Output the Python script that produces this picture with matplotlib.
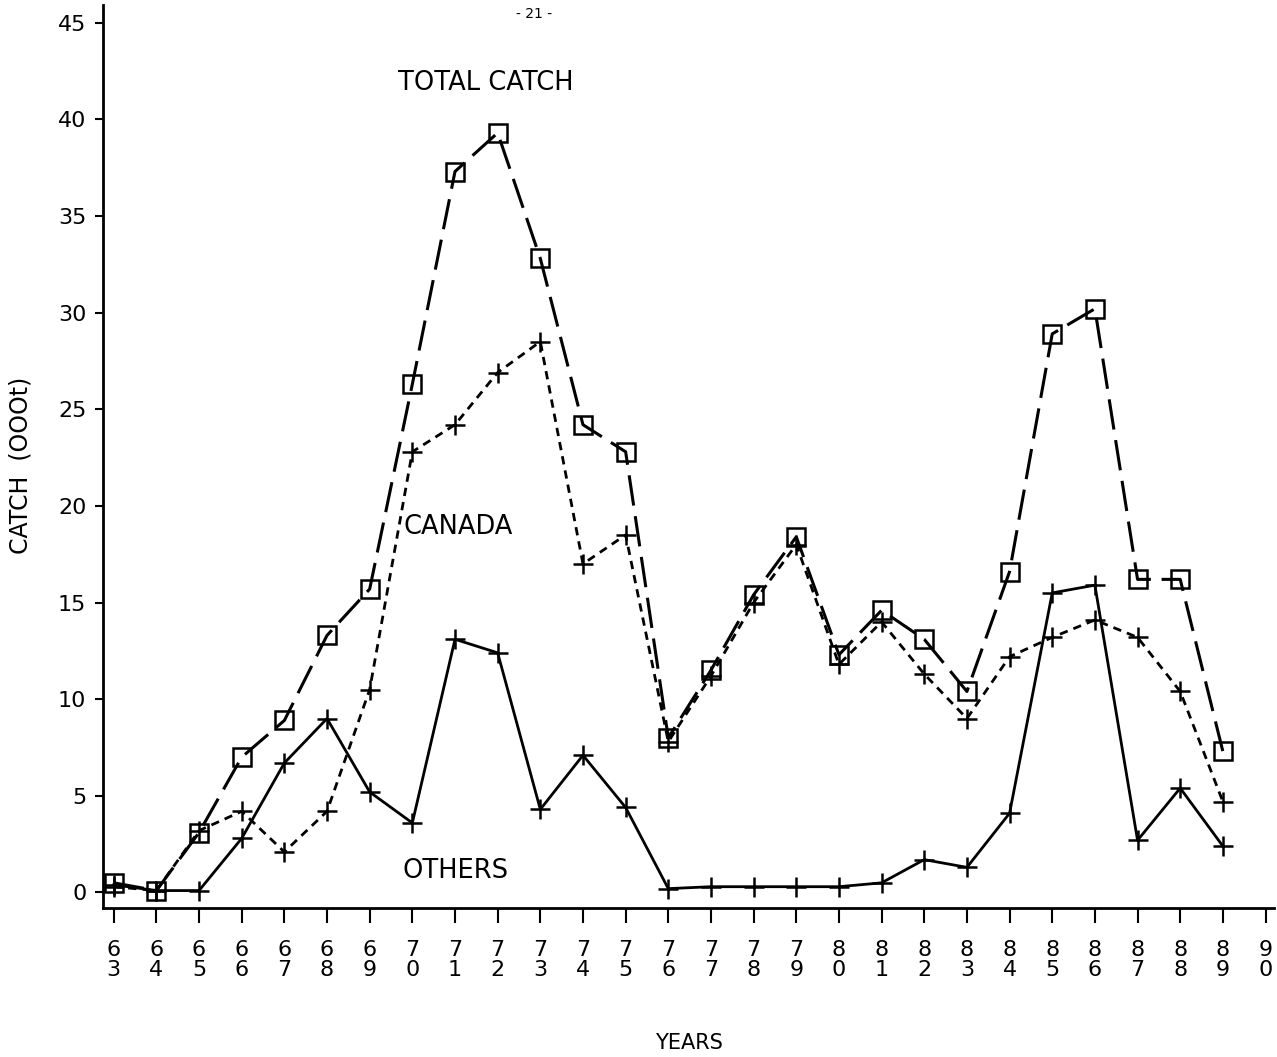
import matplotlib
matplotlib.use("Agg")
import matplotlib.pyplot as plt

# -------------------------------
# DATA (catch, 000 t)
# -------------------------------
years = list(range(63, 90))
total_catch = [0.5, 0.1, 3.1, 7.0, 8.9, 13.3, 15.7, 26.3, 37.3, 39.3, 32.8, 24.2, 22.8,
               8.0, 11.5, 15.4, 18.4, 12.3, 14.6, 13.1, 10.4, 16.6, 28.9, 30.2, 16.2, 16.2, 7.3]
canada = [0.3, 0.1, 3.2, 4.2, 2.1, 4.2, 10.5, 22.8, 24.2, 26.9, 28.5, 17.0, 18.5,
          7.8, 11.2, 15.0, 18.0, 11.8, 14.0, 11.3, 9.0, 12.2, 13.2, 14.1, 13.2, 10.4, 4.7]
others = [0.4, 0.1, 0.1, 2.8, 6.7, 9.0, 5.2, 3.6, 13.1, 12.4, 4.3, 7.1, 4.4,
          0.2, 0.3, 0.3, 0.3, 0.3, 0.5, 1.7, 1.3, 4.1, 15.5, 15.9, 2.7, 5.4, 2.4]

tick_years = list(range(63, 91))
tick_labels = ["{}\n{}".format(str(y)[0], str(y)[1]) for y in tick_years]

# -------------------------------
# PLOT
# -------------------------------
fig = plt.figure(figsize=(12.77, 10.57), dpi=100)
ax = fig.add_axes([0.0807, 0.141, 0.917, 0.854])

ax.plot(years, total_catch, color="black", lw=2.2, dashes=(10, 3.5),
        marker="s", markersize=13, markerfacecolor="none", markeredgewidth=1.8)
ax.plot(years, canada, color="black", lw=2.0, dashes=(3, 2.2),
        marker="+", markersize=15, markeredgewidth=1.8)
ax.plot(years, others, color="black", lw=2.0,
        marker="+", markersize=15, markeredgewidth=1.8)

ax.text(69.67, 41.9, "TOTAL CATCH", fontsize=18.5, va="center", ha="left")
ax.text(69.8, 18.9, "CANADA", fontsize=18.5, va="center", ha="left")
ax.text(69.76, 1.1, "OTHERS", fontsize=18.5, va="center", ha="left")

ax.set_xlim(62.75, 90.2)
ax.set_ylim(-0.8, 45.9)
ax.set_yticks(range(0, 46, 5))
ax.set_xticks(tick_years)
ax.set_xticklabels(tick_labels, linespacing=1.0)

ax.spines["top"].set_visible(False)
ax.spines["right"].set_visible(False)
ax.spines["left"].set_linewidth(2)
ax.spines["bottom"].set_linewidth(2)
ax.tick_params(axis="x", direction="out", length=11, width=1.5, pad=12, labelsize=16)
ax.tick_params(axis="y", direction="out", length=6, width=1.5, pad=6, labelsize=16)

ax.set_xlabel("YEARS", fontsize=15, labelpad=38)
ax.set_ylabel("CATCH  (OOOt)", fontsize=17)
ax.yaxis.set_label_coords(-0.060, 0.49)

fig.text(0.418, 0.993, "- 21 -", fontsize=10, ha="center", va="top")

fig.savefig("out.png", dpi=100)
